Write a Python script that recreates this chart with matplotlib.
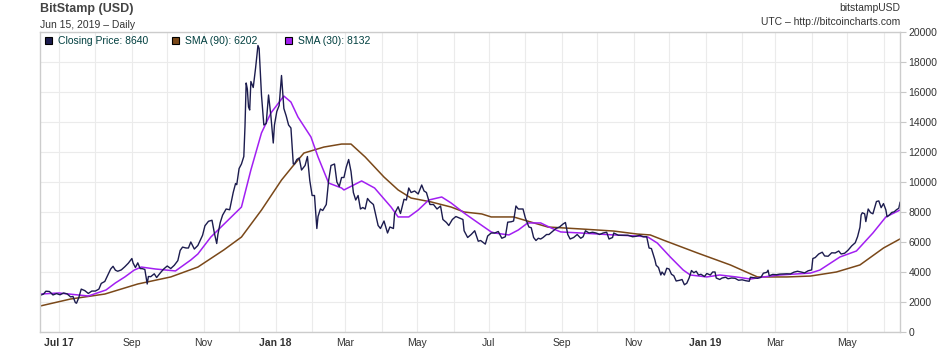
import pandas as pd
import matplotlib.pyplot as plt
import matplotlib.dates as mdates
from matplotlib.patches import Rectangle

plt.rcParams['font.family'] = ['Liberation Sans', 'DejaVu Sans']

# Closing price (BitStamp, USD)
close_dates = [
    '2017-06-15', '2017-06-18', '2017-06-20', '2017-06-23', '2017-06-26', '2017-06-29',
    '2017-07-02', '2017-07-05', '2017-07-08', '2017-07-11', '2017-07-13', '2017-07-15',
    '2017-07-16', '2017-07-18', '2017-07-20', '2017-07-23', '2017-07-26', '2017-07-29',
    '2017-08-01', '2017-08-04', '2017-08-06', '2017-08-09', '2017-08-12', '2017-08-14',
    '2017-08-16', '2017-08-18', '2017-08-20', '2017-08-23', '2017-08-26', '2017-08-29',
    '2017-09-01', '2017-09-02', '2017-09-04', '2017-09-06', '2017-09-08', '2017-09-10',
    '2017-09-12', '2017-09-14', '2017-09-15', '2017-09-17', '2017-09-20', '2017-09-22',
    '2017-09-25', '2017-09-28', '2017-10-01', '2017-10-04', '2017-10-07', '2017-10-10',
    '2017-10-12', '2017-10-14', '2017-10-17', '2017-10-19', '2017-10-21', '2017-10-24',
    '2017-10-27', '2017-10-31', '2017-11-02', '2017-11-05', '2017-11-08', '2017-11-10',
    '2017-11-12', '2017-11-13', '2017-11-15', '2017-11-17', '2017-11-20', '2017-11-23',
    '2017-11-26', '2017-11-28', '2017-11-29', '2017-12-01', '2017-12-03', '2017-12-05',
    '2017-12-06', '2017-12-07', '2017-12-08', '2017-12-09', '2017-12-10', '2017-12-11',
    '2017-12-13', '2017-12-15', '2017-12-17', '2017-12-18', '2017-12-20', '2017-12-22',
    '2017-12-24', '2017-12-26', '2017-12-28', '2017-12-30', '2017-12-31',
    '2018-01-02', '2018-01-04', '2018-01-06', '2018-01-08', '2018-01-10', '2018-01-12',
    '2018-01-14', '2018-01-16', '2018-01-17', '2018-01-19', '2018-01-21', '2018-01-23',
    '2018-01-26', '2018-01-28', '2018-01-30', '2018-02-01', '2018-02-03', '2018-02-05',
    '2018-02-06', '2018-02-08', '2018-02-10', '2018-02-13', '2018-02-15', '2018-02-17',
    '2018-02-20', '2018-02-22', '2018-02-24', '2018-02-26', '2018-02-28', '2018-03-02',
    '2018-03-04', '2018-03-06', '2018-03-08', '2018-03-10', '2018-03-12', '2018-03-14',
    '2018-03-16', '2018-03-18', '2018-03-20', '2018-03-22', '2018-03-25', '2018-03-27',
    '2018-03-29', '2018-03-31', '2018-04-03', '2018-04-06', '2018-04-08', '2018-04-11',
    '2018-04-12', '2018-04-15', '2018-04-17', '2018-04-20', '2018-04-22', '2018-04-24',
    '2018-04-26', '2018-04-29', '2018-05-02', '2018-05-05', '2018-05-07', '2018-05-09',
    '2018-05-12', '2018-05-15', '2018-05-18', '2018-05-21', '2018-05-23', '2018-05-26',
    '2018-05-28', '2018-05-31', '2018-06-03', '2018-06-06', '2018-06-09', '2018-06-10',
    '2018-06-13', '2018-06-16', '2018-06-19', '2018-06-22', '2018-06-24', '2018-06-28',
    '2018-06-30', '2018-07-03', '2018-07-06', '2018-07-09', '2018-07-12', '2018-07-15',
    '2018-07-17', '2018-07-20', '2018-07-22', '2018-07-24', '2018-07-26', '2018-07-28',
    '2018-07-30', '2018-08-01', '2018-08-04', '2018-08-06', '2018-08-08', '2018-08-10',
    '2018-08-12', '2018-08-14', '2018-08-16', '2018-08-19', '2018-08-21', '2018-08-24',
    '2018-08-27', '2018-08-30', '2018-09-02', '2018-09-04', '2018-09-06', '2018-09-08',
    '2018-09-11', '2018-09-14', '2018-09-17', '2018-09-19', '2018-09-21', '2018-09-24',
    '2018-09-27', '2018-09-30', '2018-10-03', '2018-10-06', '2018-10-09', '2018-10-11',
    '2018-10-14', '2018-10-15', '2018-10-19', '2018-10-23', '2018-10-27', '2018-10-31',
    '2018-11-03', '2018-11-06', '2018-11-09', '2018-11-12', '2018-11-14', '2018-11-16',
    '2018-11-19', '2018-11-20', '2018-11-22', '2018-11-24', '2018-11-25', '2018-11-27',
    '2018-11-29', '2018-12-01', '2018-12-03', '2018-12-05', '2018-12-07', '2018-12-10',
    '2018-12-12', '2018-12-14', '2018-12-16', '2018-12-18', '2018-12-20', '2018-12-22',
    '2018-12-24', '2018-12-26', '2018-12-28', '2018-12-31',
    '2019-01-02', '2019-01-05', '2019-01-07', '2019-01-09', '2019-01-10', '2019-01-13',
    '2019-01-15', '2019-01-18', '2019-01-20', '2019-01-23', '2019-01-26', '2019-01-29',
    '2019-02-01', '2019-02-04', '2019-02-07', '2019-02-08', '2019-02-11', '2019-02-14',
    '2019-02-17', '2019-02-19', '2019-02-22', '2019-02-23', '2019-02-24', '2019-02-27',
    '2019-03-02', '2019-03-05', '2019-03-08', '2019-03-11', '2019-03-14', '2019-03-17',
    '2019-03-20', '2019-03-23', '2019-03-26', '2019-03-29', '2019-04-01', '2019-04-02',
    '2019-04-04', '2019-04-07', '2019-04-10', '2019-04-12', '2019-04-15', '2019-04-18',
    '2019-04-21', '2019-04-24', '2019-04-26', '2019-04-29', '2019-05-02', '2019-05-05',
    '2019-05-08', '2019-05-10', '2019-05-12', '2019-05-13', '2019-05-14', '2019-05-16',
    '2019-05-17', '2019-05-19', '2019-05-21', '2019-05-23', '2019-05-26', '2019-05-28',
    '2019-05-30', '2019-06-01', '2019-06-03', '2019-06-04', '2019-06-06', '2019-06-08',
    '2019-06-10', '2019-06-12', '2019-06-14', '2019-06-15',
]
close_values = [
    2440, 2530, 2720, 2700, 2470, 2560,
    2480, 2600, 2540, 2340, 2370, 1960,
    1920, 2310, 2860, 2760, 2570, 2730,
    2730, 2860, 3240, 3370, 3870, 4200,
    4380, 4120, 4050, 4140, 4350, 4590,
    4900, 4600, 4300, 4610, 4230, 4220,
    4170, 3200, 3700, 3690, 3880, 3630,
    3930, 4200, 4400, 4230, 4450, 4760,
    5440, 5660, 5600, 5600, 6000, 5530,
    5770, 6450, 7080, 7380, 7450, 6600,
    5900, 6500, 7300, 7790, 8200, 8150,
    9300, 9900, 9820, 10900, 11200, 11700,
    13700, 16600, 16200, 15000, 14800, 16700,
    16300, 17600, 19100, 18900, 15800, 13800,
    13900, 15800, 14400, 12600, 13800,
    14700, 15100, 17100, 14900, 14400, 13800,
    13600, 11200, 11200, 11500, 11600, 10800,
    11100, 11700, 10100, 9100, 9100, 6900,
    7700, 8200, 8100, 8500, 10100, 11100,
    11200, 10000, 9700, 10300, 10300, 11000,
    11500, 10700, 9300, 8800, 9100, 8200,
    8300, 8200, 8900, 8700, 8500, 7800,
    7100, 6900, 7400, 6600, 7000, 6900,
    7900, 8350, 7900, 8850, 8800, 9600,
    9300, 9400, 9200, 9800, 9400, 9300,
    8500, 8500, 8200, 8400, 7500, 7300,
    7100, 7500, 7700, 7600, 7500, 6750,
    6300, 6500, 6750, 6050, 6100, 5860,
    6400, 6600, 6600, 6700, 6250, 6350,
    7320, 7350, 7400, 8400, 8200, 8200,
    8200, 7600, 7000, 6950, 6300, 6100,
    6250, 6200, 6300, 6500, 6500, 6700,
    6900, 7000, 7200, 7300, 6500, 6200,
    6300, 6500, 6250, 6350, 6750, 6600,
    6650, 6600, 6500, 6600, 6650, 6200,
    6300, 6600, 6450, 6450, 6450, 6350,
    6380, 6450, 6350, 6350, 5600, 5560,
    4800, 4450, 4300, 3800, 4000, 3800,
    4250, 4200, 3850, 3750, 3400, 3450,
    3500, 3150, 3250, 3600, 4100, 3950,
    4050, 3800, 3850, 3700,
    3900, 3800, 4000, 4000, 3600, 3500,
    3600, 3650, 3550, 3600, 3580, 3450,
    3480, 3420, 3380, 3650, 3620, 3580,
    3650, 3920, 3980, 4120, 3750, 3840,
    3820, 3860, 3870, 3880, 3870, 3990,
    4050, 4000, 3940, 4080, 4140, 4900,
    4960, 5200, 5320, 5070, 5050, 5280,
    5270, 5400, 5200, 5250, 5460, 5740,
    5950, 6360, 6980, 7800, 7950, 7880,
    7360, 8200, 7960, 7880, 8700, 8740,
    8290, 8560, 8140, 7680, 7800, 7970,
    8010, 8150, 8250, 8640,
]

# SMA (90)
sma90_dates = [
    '2017-06-15', '2017-07-11', '2017-08-09', '2017-09-06', '2017-10-04', '2017-10-27',
    '2017-11-18', '2017-12-03', '2017-12-20', '2018-01-06', '2018-01-15', '2018-01-25',
    '2018-02-11', '2018-02-26', '2018-03-06', '2018-03-18', '2018-04-03', '2018-04-15',
    '2018-04-26', '2018-05-13', '2018-05-30', '2018-06-10', '2018-06-25', '2018-07-03',
    '2018-07-22', '2018-08-20', '2018-09-17', '2018-10-15', '2018-11-04', '2018-11-15',
    '2018-11-26', '2018-12-25', '2019-01-22', '2019-02-14', '2019-02-24', '2019-03-11',
    '2019-03-31', '2019-04-22', '2019-05-12', '2019-06-01', '2019-06-15',
]
sma90_values = [
    1730, 2200, 2530, 3200, 3670, 4330,
    5470, 6330, 8130, 10130, 11000, 11930,
    12330, 12530, 12530, 11670, 10330, 9470,
    8930, 8670, 8330, 8000, 7870, 7670,
    7670, 7000, 6870, 6730, 6530, 6470,
    6130, 5270, 4470, 3670, 3670, 3670,
    3730, 4000, 4470, 5600, 6202,
]

# SMA (30)
sma30_dates = [
    '2017-06-15', '2017-07-01', '2017-07-26', '2017-08-10', '2017-08-18', '2017-08-26',
    '2017-09-03', '2017-09-09', '2017-09-21', '2017-10-08', '2017-10-21', '2017-10-27',
    '2017-11-07', '2017-12-03', '2017-12-11', '2017-12-20', '2017-12-28', '2018-01-08',
    '2018-01-14', '2018-01-20', '2018-01-31', '2018-02-06', '2018-02-15', '2018-02-26',
    '2018-02-28', '2018-03-15', '2018-03-26', '2018-04-09', '2018-04-15', '2018-04-24',
    '2018-05-02', '2018-05-11', '2018-05-22', '2018-05-30', '2018-06-10', '2018-06-22',
    '2018-07-03', '2018-07-06', '2018-07-18', '2018-07-26', '2018-08-03', '2018-08-14',
    '2018-08-23', '2018-08-31', '2018-09-17', '2018-10-15', '2018-11-04', '2018-11-13',
    '2018-11-21', '2018-12-02', '2018-12-13', '2018-12-19', '2019-01-02', '2019-01-13',
    '2019-01-27', '2019-02-08', '2019-02-19', '2019-03-05', '2019-03-31', '2019-04-08',
    '2019-04-25', '2019-05-09', '2019-05-23', '2019-06-03', '2019-06-15',
]
sma30_values = [
    2530, 2600, 2400, 2800, 3270, 3670,
    4130, 4330, 4200, 4070, 4800, 5200,
    6330, 8330, 10800, 13270, 14600, 15730,
    15330, 14330, 13000, 11670, 9930, 9600,
    9470, 10070, 9600, 8330, 7670, 7670,
    8130, 8800, 9000, 8600, 7930, 7270,
    6670, 6600, 6470, 6800, 7270, 7270,
    6930, 6670, 6600, 6470, 6400, 6330,
    5930, 5000, 4130, 3800, 3670, 3800,
    3670, 3530, 3670, 3800, 3930, 4130,
    5000, 5400, 6600, 7670, 8132,
]


def generate_graph():
    fig = plt.figure(figsize=(9.4, 3.48), dpi=100)
    ax = fig.add_axes([40 / 940, 16 / 348, 860 / 940, 300 / 348])

    close = pd.Series(close_values, index=pd.to_datetime(close_dates))
    sma90 = pd.Series(sma90_values, index=pd.to_datetime(sma90_dates))
    sma30 = pd.Series(sma30_values, index=pd.to_datetime(sma30_dates))

    c_close = '#1c1c4e'
    c_90 = '#7a4819'
    c_30 = '#a21ff2'

    ax.plot(sma90.index, sma90.values, color=c_90, lw=1.1)
    ax.plot(sma30.index, sma30.values, color=c_30, lw=1.1)
    ax.plot(close.index, close.values, color=c_close, lw=1.0)

    ax.set_xlim(pd.Timestamp('2017-06-15'), pd.Timestamp('2019-06-15'))
    ax.set_ylim(0, 20000)

    # grid: every month, every 2000
    ax.xaxis.set_major_locator(mdates.MonthLocator(bymonth=[1, 3, 5, 7, 9, 11]))
    ax.xaxis.set_minor_locator(mdates.MonthLocator())
    ax.set_yticks(range(0, 20001, 2000))
    ax.grid(True, which='both', axis='x', color='#ebebeb', lw=0.8)
    ax.grid(True, axis='y', color='#ebebeb', lw=0.8)
    ax.set_axisbelow(True)

    labels = []
    for d in mdates.num2date(ax.get_xticks()):
        if d.month == 1 or (d.year == 2017 and d.month == 7):
            labels.append(d.strftime('%b %y'))
        else:
            labels.append(d.strftime('%b'))
    ax.set_xticks(ax.get_xticks())
    ax.set_xticklabels(labels, fontsize=7.5, color='#333333')
    for lbl in ax.get_xticklabels():
        if ' ' in lbl.get_text():
            lbl.set_fontweight('bold')
    ax.tick_params(axis='x', which='both', length=0, pad=4)

    ax.yaxis.tick_right()
    ax.tick_params(axis='y', length=4, color='#c8c8c8', labelsize=7.5,
                   labelcolor='#333333', pad=2)

    for side in ['left', 'right', 'top', 'bottom']:
        ax.spines[side].set_color('#cccccc')
        ax.spines[side].set_linewidth(1)

    # titles
    fig.text(40 / 940, 1 - 9 / 348, 'BitStamp (USD)', fontsize=9, fontweight='bold',
             color='#444444', va='center', ha='left')
    fig.text(40 / 940, 1 - 25 / 348, 'Jun 15, 2019 \u2013 Daily', fontsize=7.5,
             color='#333333', va='center', ha='left')
    fig.text(900 / 940, 1 - 8 / 348, 'bitstampUSD', fontsize=7.5,
             color='#333333', va='center', ha='right')
    fig.text(900 / 940, 1 - 22 / 348, 'UTC \u2013 http://bitcoincharts.com', fontsize=7.5,
             color='#333333', va='center', ha='right')

    # legend
    legend = [('Closing Price: 8640', c_close, 45),
              ('SMA (90): 6202', c_90, 172),
              ('SMA (30): 8132', c_30, 285)]
    for text, color, px in legend:
        fig.patches.append(Rectangle((px / 940, 1 - 44 / 348), 7 / 940, 7 / 348,
                                     transform=fig.transFigure, facecolor=color,
                                     edgecolor='black', lw=0.8))
        fig.text((px + 13) / 940, 1 - 40.5 / 348, text, fontsize=7.5,
                 color='#003f3f', va='center', ha='left')

    plt.savefig('out.png', dpi=100)


if __name__ == "__main__":
    generate_graph()
